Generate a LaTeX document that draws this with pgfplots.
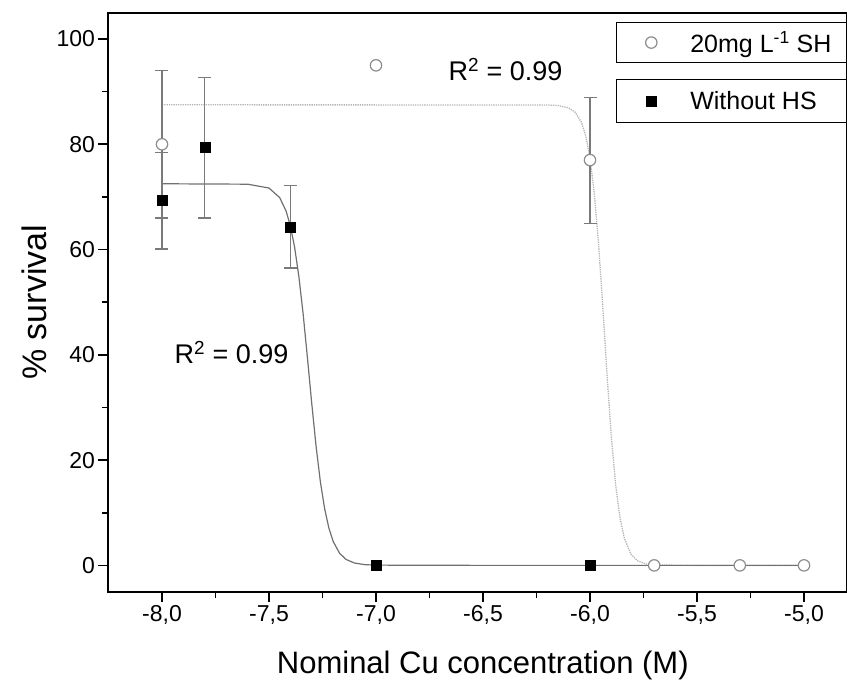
\documentclass[border=0pt]{standalone}
\usepackage{pgfplots}
\pgfplotsset{compat=1.18}
\usepackage{pgfplotstable}
\usepackage{fontspec}
\setmainfont{Liberation Sans}

\definecolor{fitA}{HTML}{707070}
\definecolor{fitB}{HTML}{B4B4B4}
\definecolor{errc}{HTML}{7A7A7A}
\definecolor{circc}{HTML}{8C8C8C}

% 20 mg/L SH : measured points
\pgfplotstableread{
x y
-8.0 80
-7.0 95
-6.0 77
-5.7 0
-5.3 0
-5.0 0
}\shdata
\pgfplotstableread{
x y ep em
-8.0 80 14.0 14.0
-6.0 77 11.9 12.0
}\sherr
% Without HS : measured points
\pgfplotstableread{
x y
-8.0 69.4
-7.8 79.4
-7.4 64.3
-7.0 0
-6.0 0
}\hsdata
\pgfplotstableread{
x y ep em
-8.0 69.4 9.0 9.3
-7.8 79.4 13.3 13.4
-7.4 64.3 7.8 7.8
}\hserr
% fitted curves
\pgfplotstableread{
x y
-8.00 72.50
-7.60 72.42
-7.50 71.69
-7.45 69.87
-7.42 67.31
-7.40 64.47
-7.38 60.37
-7.36 54.75
-7.34 47.58
-7.32 39.28
-7.30 30.66
-7.28 22.63
-7.26 15.91
-7.24 10.76
-7.22 7.06
-7.20 4.54
-7.17 2.29
-7.14 1.13
-7.10 0.44
-7.05 0.13
-7.00 0.05
-6.50 0
-5.00 0
}\hsfit
\pgfplotstableread{
x y
-8.00 87.50
-6.20 87.47
-6.15 87.37
-6.10 86.93
-6.07 86.12
-6.04 84.18
-6.02 81.64
-6.00 77.39
-5.98 70.70
-5.96 61.08
-5.94 48.96
-5.92 35.98
-5.90 24.26
-5.88 15.24
-5.86 9.09
-5.84 5.24
-5.81 2.21
-5.78 0.92
-5.74 0.28
-5.70 0.08
-5.50 0
-5.00 0
}\shfit

\pgfplotsset{
  myaxis/.style={
    at={(0pt,0pt)}, anchor=south west,
    scale only axis, width=738.3pt, height=579pt,
    xmin=-8.25, xmax=-4.8, ymin=-5, ymax=105,
  },
  mylegend/.style={
    legend style={draw=black, line width=1.2pt, fill=white,
      anchor=north west, inner xsep=0pt, inner ysep=#1,
      font=\fontsize{25}{30}\selectfont,
      nodes={inner sep=0pt}},
    legend cell align=left,
    legend image code/.code={%
      \path[draw=none, fill=none] (0pt,-8pt) rectangle (74pt,8pt);
      \draw[##1] plot coordinates {(35pt,0pt)};},
  },
}

\begin{document}
\begin{tikzpicture}
\useasboundingbox (-108.5pt,-94.3pt) rectangle (738.5pt,591.7pt);
\begin{axis}[myaxis, mylegend=9pt,
  axis line style={line width=2pt, black},
  tick style={line width=1.6pt, black},
  tick align=outside,
  xtick pos=bottom, ytick pos=left,
  major tick length=10pt, minor tick length=6pt,
  xtick={-8,-7.5,...,-5}, minor x tick num=1,
  ytick={0,20,...,100}, minor y tick num=1,
  ticklabel style={font=\fontsize{23}{27}\selectfont},
  xticklabel style={/pgf/number format/.cd, fixed, fixed zerofill, precision=1, use comma},
  /pgf/number format/assume math mode=true,
  xlabel={Nominal Cu concentration (M)},
  ylabel={\% survival},
  xlabel style={font=\fontsize{31}{36}\selectfont, at={(axis description cs:0.507,-0.1266)}, anchor=center},
  ylabel style={font=\fontsize{34}{38}\selectfont, at={(axis description cs:-0.1,0.5)}, anchor=center},
  legend style={at={(0.687,0.9845)}},
]
% fitted curves
\addplot[forget plot, color=fitB, line width=1.3pt, densely dotted, mark=none] table[x=x,y=y]{\shfit};
\addplot[forget plot, color=fitA, line width=1.2pt, mark=none] table[x=x,y=y]{\hsfit};
% error bars
\addplot[forget plot, draw=none, mark=none,
  error bars/.cd, y dir=both, y explicit,
  error bar style={draw=errc, line width=1.2pt, solid},
  error mark options={draw=errc, line width=1.2pt, mark size=6.5pt, rotate=90}]
  table[x=x, y=y, y error plus=ep, y error minus=em]{\sherr};
\addplot[forget plot, draw=none, mark=none,
  error bars/.cd, y dir=both, y explicit,
  error bar style={draw=errc, line width=1.2pt, solid},
  error mark options={draw=errc, line width=1.2pt, mark size=6.5pt, rotate=90}]
  table[x=x, y=y, y error plus=ep, y error minus=em]{\hserr};
% points
\addplot[forget plot, only marks, mark=square*, mark size=5pt, mark options={fill=black, draw=black, line width=0.5pt}] table[x=x,y=y]{\hsdata};
\addplot[only marks, mark=*, mark size=5.7pt, mark options={fill=white, draw=circc, line width=1.2pt}] table[x=x,y=y]{\shdata};
\addlegendentry{\makebox[156pt][l]{20mg L\textsuperscript{-1} SH}}
\node[font=\fontsize{27}{32}\selectfont] at (axis cs:-7.675,40.5) {R\textsuperscript{2} = 0.99};
\node[font=\fontsize{27}{32}\selectfont] at (axis cs:-6.395,94.2) {R\textsuperscript{2} = 0.99};
\end{axis}
\begin{axis}[myaxis, hide axis, mylegend=11.5pt,
  legend style={at={(0.687,0.8855)}}]
\addlegendimage{only marks, mark=square*, mark size=5pt, mark options={fill=black, draw=black, line width=0.5pt}}
\addlegendentry{\makebox[156pt][l]{Without HS}}
\end{axis}
\end{tikzpicture}
\end{document}
